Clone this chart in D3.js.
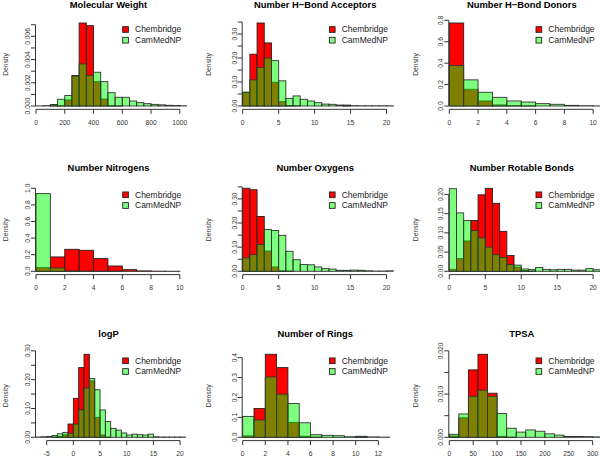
<!DOCTYPE html>
<head>
  <meta charset="utf-8">
  <script src="https://d3js.org/d3.v7.min.js"></script>
  <style>
    body {
      margin: 0;
      background: #fff;
      font-family: "Liberation Sans", Arial, sans-serif;
    }
    .axis line, .axis path { stroke: #333; stroke-width: 1; fill: none; }
    .tick-label { font-size: 6.7px; fill: #333; }
    .ylab { font-size: 6.8px; fill: #333; }
    .title { font-size: 9.4px; font-weight: bold; fill: #000; }
    .legend text { font-size: 8.5px; fill: #222; }
  </style>
</head>

<body>
  <div id="chart"></div>

  <script>
    // ---- data (densities per bin) ----
    var titles = ["Molecular Weight", "Number H\u2212Bond Acceptors", "Number H\u2212Bond Donors",
                  "Number Nitrogens", "Number Oxygens", "Number Rotable Bonds",
                  "logP", "Number of Rings", "TPSA"];
    var seriesNames = ["Chembridge", "CamMedNP"];

    // first break and bin width of each histogram
    var binStart = [0, 0, 0, 0, 0, 0, -7, 0, 0];
    var binWidth = [50, 1, 1, 1, 1, 1, 1, 1, 20];

    var mwChem = [0, 0, 0.0001, 0.00003, 0.00052, 0.00263, 0.00715, 0.00692, 0.0021, 0.0006, 0.00004,
                  0.00001, 0, 0, 0, 0, 0, 0, 0, 0, 0];
    var mwCam = [0.00001, 0.00003, 0.00012, 0.00058, 0.0009, 0.00258, 0.00363, 0.00262, 0.00291, 0.0021,
                 0.00115, 0.00075, 0.00075, 0.00043, 0.00029, 0.0002, 0.00014, 0.0001, 0.00006, 0.00004, 0.00002];

    var hbaChem = [0.056, 0.216, 0.346, 0.263, 0.099, 0.018, 0.002, 0.001, 0, 0, 0, 0, 0, 0, 0.001, 0, 0, 0, 0, 0, 0];
    var hbaCam = [0.058, 0.109, 0.161, 0.2, 0.189, 0.105, 0.032, 0.042, 0.028, 0.021, 0.014, 0.008, 0.007,
                  0.004, 0.004, 0.0015, 0.001, 0.001, 0.001, 0.001, 0.001];

    var hbdChem = [0.775, 0.156, 0.047, 0.01, 0.002, 0.001, 0, 0, 0, 0, 0];
    var hbdCam = [0.378, 0.244, 0.128, 0.081, 0.047, 0.037, 0.022, 0.016, 0.006, 0.003, 0.001];

    var nitChem = [0.044, 0.173, 0.265, 0.253, 0.153, 0.064, 0.02, 0.005, 0.002, 0.001];
    var nitCam = [0.936, 0.04, 0.004, 0.002, 0.001, 0.001, 0, 0, 0, 0];

    var oxyChem = [0.344, 0.338, 0.227, 0.084, 0.018, 0.002, 0.001, 0, 0, 0, 0, 0, 0, 0, 0, 0, 0, 0, 0, 0, 0];
    var oxyCam = [0.056, 0.069, 0.111, 0.173, 0.169, 0.149, 0.083, 0.048, 0.028, 0.027, 0.018, 0.011, 0.009,
                  0.004, 0.004, 0.005, 0.004, 0.002, 0.001, 0.001, 0.002];

    var rotChem = [0.005, 0.033, 0.079, 0.132, 0.199, 0.216, 0.177, 0.104, 0.041, 0.011, 0.002, 0.001,
                   0, 0, 0, 0, 0, 0, 0, 0, 0];
    var rotCam = [0.215, 0.152, 0.132, 0.106, 0.087, 0.063, 0.043, 0.036, 0.018, 0.016, 0.006, 0.005, 0.01,
                  0.005, 0.004, 0.005, 0.005, 0.003, 0.003, 0.007, 0.004];

    var logpChem = [0, 0, 0, 0.001, 0.003, 0.009, 0.046, 0.135, 0.242, 0.288, 0.196, 0.069, 0.008, 0.001,
                    0, 0, 0, 0, 0, 0, 0, 0, 0, 0, 0, 0, 0, 0];
    var logpCam = [0.001, 0.002, 0.003, 0.006, 0.012, 0.017, 0.014, 0.046, 0.095, 0.171, 0.204, 0.165, 0.095,
                   0.055, 0.031, 0.025, 0.015, 0.008, 0.011, 0.009, 0.008, 0.011, 0.002, 0.001, 0.001, 0.001, 0.001, 0.001];

    var ringChem = [0.007, 0.145, 0.417, 0.35, 0.075, 0.005, 0.001, 0, 0, 0, 0.001, 0, 0];
    var ringCam = [0.105, 0.087, 0.303, 0.217, 0.17, 0.073, 0.013, 0.01, 0.008, 0.003, 0.005, 0.002, 0.001];

    var tpsaChem = [0.0003, 0.0045, 0.0156, 0.0192, 0.0102, 0.0002, 0.00005, 0, 0, 0, 0, 0, 0, 0, 0, 0];
    var tpsaCam = [0.0007, 0.0054, 0.0095, 0.0109, 0.0095, 0.0055, 0.0021, 0.0012, 0.0017, 0.0014, 0.0008,
                   0.0005, 0.0002, 0.0002, 0.00015, 0.0001];

    var chemSeries = [mwChem, hbaChem, hbdChem, nitChem, oxyChem, rotChem, logpChem, ringChem, tpsaChem];
    var camSeries = [mwCam, hbaCam, hbdCam, nitCam, oxyCam, rotCam, logpCam, ringCam, tpsaCam];

    // axis ranges and ticks
    var xLims = [[0, 1050], [0, 21], [0, 10.5], [0, 10.5], [0, 21], [0, 21], [-7, 21.3], [0, 13.36], [0, 316]];
    var xTicks = [d3.range(0, 1001, 200), [0, 5, 10, 15, 20], d3.range(0, 11, 2),
                  d3.range(0, 11, 2), [0, 5, 10, 15, 20], [0, 5, 10, 15, 20],
                  [-5, 0, 5, 10, 15, 20], d3.range(0, 13, 2), d3.range(0, 301, 50)];
    var yTopOverride = [null, null, null, 1, null, null, null, null, null];
    var yTicks = [[0, 0.001, 0.002, 0.003, 0.004, 0.005, 0.006, 0.007],
                  [0, 0.05, 0.1, 0.15, 0.2, 0.25, 0.3, 0.35],
                  [0, 0.2, 0.4, 0.6, 0.8],
                  [0, 0.2, 0.4, 0.6, 0.8, 1.0],
                  [0, 0.05, 0.1, 0.15, 0.2, 0.25, 0.3, 0.35],
                  [0, 0.05, 0.1, 0.15, 0.2],
                  [0, 0.05, 0.1, 0.15, 0.2, 0.25, 0.3],
                  [0, 0.1, 0.2, 0.3, 0.4],
                  [0, 0.005, 0.01, 0.015, 0.02]];
    // every n-th y tick carries a label (others overlap in the original)
    var yLabelEvery = [2, 2, 1, 1, 2, 1, 2, 1, 2];
    var yFormats = [".3f", ".2f", ".1f", ".1f", ".2f", ".2f", ".2f", ".1f", ".3f"];

    // ---- layout ----
    var width = 600, height = 456;
    var colLeft = [36, 242.7, 449.3];
    var rowZero = [106, 271.3, 437.3];
    var titleY = [7.5, 170.6, 336.8];
    var ylabX = [5.5, 209, 415.5];
    var plotW = 151, barSpan = 83, pad = 0.04 * barSpan;

    var svg = d3.select("#chart").append("svg")
      .attr("width", width)
      .attr("height", height);

    var defs = svg.append("defs");

    titles.forEach(function(title, i) {
      var col = i % 3, row = Math.floor(i / 3);
      var L = colLeft[col], zero = rowZero[row];
      var chem = chemSeries[i], cam = camSeries[i];
      var yTop = yTopOverride[i] || d3.max(chem.concat(cam));

      var x = d3.scaleLinear().domain(xLims[i]).range([L, L + plotW]);
      var y = d3.scaleLinear().domain([0, yTop]).range([zero, zero - barSpan]);

      defs.append("clipPath").attr("id", "clip" + i)
        .append("rect")
          .attr("x", L - 6).attr("y", zero - barSpan - pad)
          .attr("width", plotW + 6).attr("height", barSpan + 2 * pad);

      var g = svg.append("g");
      var bars = g.append("g").attr("clip-path", "url(#clip" + i + ")");

      function drawBars(vals, fill, stroke) {
        bars.append("g").selectAll("rect")
            .data(vals)
          .enter().append("rect")
            .attr("x", function(d, k) { return x(binStart[i] + k * binWidth[i]); })
            .attr("width", function(d, k) {
              return x(binStart[i] + (k + 1) * binWidth[i]) - x(binStart[i] + k * binWidth[i]);
            })
            .attr("y", function(d) { return y(d); })
            .attr("height", function(d) { return zero - y(d); })
            .style("fill", fill)
            .style("stroke", stroke)
            .style("stroke-width", 0.9);
      }
      drawBars(chem, "#ff0000", "#222");
      drawBars(cam, "rgba(0,255,0,0.5)", "#333");

      // x axis
      var xt = xTicks[i];
      var xAxisY = zero + pad;
      var xa = g.append("g").attr("class", "axis");
      xa.append("line")
        .attr("x1", x(xt[0])).attr("x2", x(xt[xt.length - 1]))
        .attr("y1", xAxisY).attr("y2", xAxisY);
      xa.selectAll(".t").data(xt).enter().append("line")
        .attr("x1", function(d) { return x(d); }).attr("x2", function(d) { return x(d); })
        .attr("y1", xAxisY).attr("y2", xAxisY + 4.5);
      xa.selectAll("text").data(xt).enter().append("text")
        .attr("class", "tick-label")
        .attr("x", function(d) { return x(d); })
        .attr("y", zero + 19)
        .attr("text-anchor", "middle")
        .text(function(d) { return d; });

      // y axis
      var yt = yTicks[i];
      var yAxisX = L - 0.5;
      var fmt = d3.format(yFormats[i]);
      var ya = g.append("g").attr("class", "axis");
      ya.append("line")
        .attr("x1", yAxisX).attr("x2", yAxisX)
        .attr("y1", y(yt[0])).attr("y2", y(yt[yt.length - 1]));
      ya.selectAll(".t").data(yt).enter().append("line")
        .attr("x1", yAxisX).attr("x2", yAxisX - 4.5)
        .attr("y1", function(d) { return y(d); }).attr("y2", function(d) { return y(d); });
      ya.selectAll("text").data(yt.filter(function(d, k) { return k % yLabelEvery[i] === 0; }))
        .enter().append("text")
          .attr("class", "tick-label")
          .attr("text-anchor", "middle")
          .attr("transform", function(d) {
            return "translate(" + (L - 6) + "," + y(d) + ") rotate(-90)";
          })
          .text(function(d) { return fmt(d); });

      g.append("text")
        .attr("class", "ylab")
        .attr("text-anchor", "middle")
        .attr("dy", "0.35em")
        .attr("transform", "translate(" + ylabX[col] + "," + (zero - 41.5) + ") rotate(-90)")
        .text("Density");

      g.append("text")
        .attr("class", "title")
        .attr("x", L + 72.5)
        .attr("y", titleY[row])
        .attr("text-anchor", "middle")
        .text(title);

      // legend
      var leg = g.append("g").attr("class", "legend");
      var legFill = ["#ff0000", "rgba(0,255,0,0.5)"];
      seriesNames.forEach(function(name, k) {
        var cy = zero - 76.5 + k * 10.7;
        leg.append("rect")
          .attr("x", L + 86.7).attr("y", cy - 2.85)
          .attr("width", 5.7).attr("height", 5.7)
          .style("fill", legFill[k])
          .style("stroke", "#222")
          .style("stroke-width", 0.9);
        leg.append("text")
          .attr("x", L + 99)
          .attr("y", cy)
          .attr("dy", "0.35em")
          .text(name);
      });
    });
  </script>
</body>
